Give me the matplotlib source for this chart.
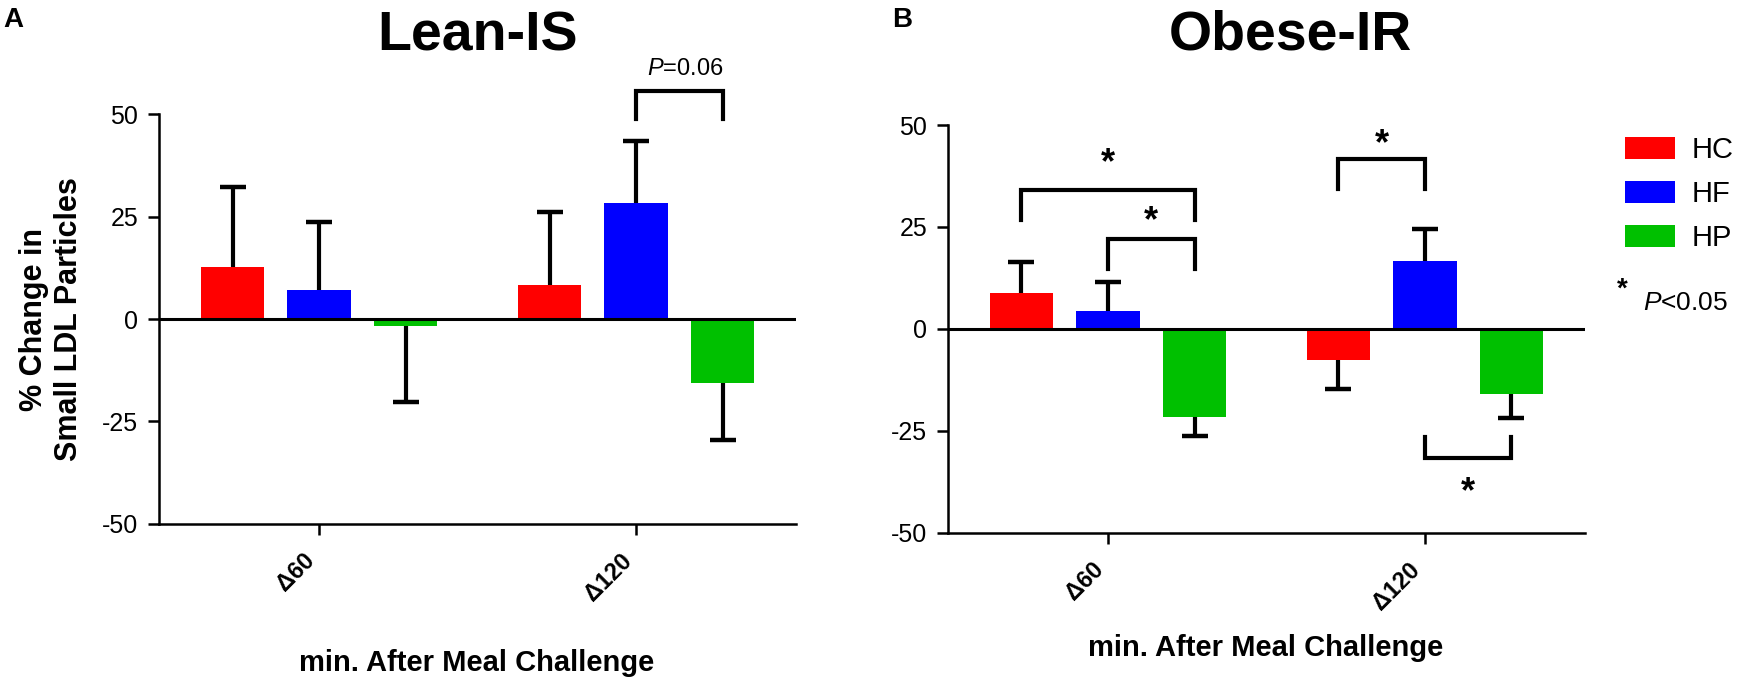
import matplotlib
matplotlib.use('Agg')
import matplotlib.pyplot as plt

plt.rcParams['font.family'] = ['Liberation Sans', 'DejaVu Sans']
plt.rcParams['mathtext.fontset'] = 'custom'
plt.rcParams['mathtext.it'] = 'Liberation Sans:italic'
plt.rcParams['mathtext.rm'] = 'Liberation Sans'

# data (mean and end of the SEM bar, % change)
groups = ['Δ60', 'Δ120']
series_names = ['HC', 'HF', 'HP']
colors = ['#ff0000', '#0000ff', '#00c000']

lean_means = [[12.8, 8.3], [7.1, 28.2], [-1.7, -15.7]]
lean_tips = [[32.1, 26.0], [23.6, 43.4], [-20.3, -29.4]]

obese_means = [[8.8, -7.6], [4.3, 16.6], [-21.5, -15.9]]
obese_tips = [[16.4, -14.7], [11.5, 24.6], [-26.3, -21.7]]

yticks = [-50, -25, 0, 25, 50]
ytick_labels = ['-50', '-25', '0', '25', '50']

# comparisons: (series a, group a, series b, group b, bar level, leg end, label, label level)
lean_brackets = [('HF', 1, 'HP', 1, 55.6, 48.8, r'$\it{P}$=0.06', 61)]
obese_brackets = [
    ('HC', 0, 'HP', 0, 34.1, 26.7, '*', 43.0),
    ('HF', 0, 'HP', 0, 22.0, 14.7, '*', 28.7),
    ('HC', 1, 'HF', 1, 41.7, 34.4, '*', 47.5),
    ('HF', 1, 'HP', 1, -31.6, -26.5, '*', -37.8),
]

offsets = [-0.273, 0.0, 0.273]
bar_w = 0.2


def bar_x(name, g):
    return g + offsets[series_names.index(name)]


def draw_panel(ax, means, tips, brackets, title, tx, ty):
    for i, name in enumerate(series_names):
        xs = [g + offsets[i] for g in range(len(groups))]
        ax.bar(xs, means[i], width=bar_w, color=colors[i], zorder=2, label=name)
        ax.vlines(xs, means[i], tips[i], color='k', lw=3, zorder=1)
        ax.plot(xs, tips[i], ls='none', marker='_', ms=19, mew=3.2, color='k', zorder=1)
    ax.axhline(0, color='k', lw=2.2, zorder=3)

    for a, ga, b, gb, level, leg, label, ly in brackets:
        x1, x2 = bar_x(a, ga), bar_x(b, gb)
        ax.plot([x1, x1, x2, x2], [leg, level, level, leg], color='k', lw=3,
                solid_joinstyle='miter', clip_on=False)
        xm = (x1 + x2) / 2
        if label == '*':
            ax.annotate('*', (xm, ly), xytext=(0, -14), textcoords='offset points',
                        ha='center', va='baseline', fontsize=26, fontweight='bold',
                        annotation_clip=False)
        else:
            ax.text(xm + 0.02, ly, label, ha='center', va='center', fontsize=17)

    ax.set_xlim(-0.505, 1.505)
    ax.set_ylim(-50, 50)
    ax.set_xticks(range(len(groups)))
    ax.set_xticklabels(groups, rotation=45, ha='right', fontsize=17, fontweight='bold')
    ax.set_yticks(yticks)
    ax.set_yticklabels(ytick_labels, fontsize=18)
    ax.tick_params(axis='both', direction='out', length=8, width=1.8, color='k')
    ax.tick_params(axis='y', pad=7)
    ax.tick_params(axis='x', pad=10)
    for side in ['top', 'right']:
        ax.spines[side].set_visible(False)
    for side in ['left', 'bottom']:
        ax.spines[side].set_linewidth(1.8)
    ax.text(tx, ty, title, transform=ax.transAxes, ha='center', va='baseline',
            fontsize=40, fontweight='bold')


fig = plt.figure(figsize=(17.5, 6.91), dpi=100)
ax_l = fig.add_axes([0.0909, 0.2417, 0.364, 0.5933])
ax_r = fig.add_axes([0.5417, 0.2287, 0.364, 0.5904])

draw_panel(ax_l, lean_means, lean_tips, lean_brackets, 'Lean-IS', 0.5, 1.156)
draw_panel(ax_r, obese_means, obese_tips, obese_brackets, 'Obese-IR', 0.538, 1.184)

ax_l.set_ylabel('% Change in\nSmall LDL Particles', fontsize=22, fontweight='bold')
ax_l.yaxis.set_label_coords(-0.118, 0.5)

fig.text(0.2726, 0.0405, 'min. After Meal Challenge', ha='center', va='center',
         fontsize=21, fontweight='bold')
fig.text(0.7234, 0.062, 'min. After Meal Challenge', ha='center', va='center',
         fontsize=21, fontweight='bold')

fig.text(0.002, 0.961, 'A', fontsize=20, fontweight='bold', va='baseline')
fig.text(0.5097, 0.961, 'B', fontsize=20, fontweight='bold', va='baseline')

ax_r.legend(loc='upper left', bbox_to_anchor=(1625 / 1750, 1 - 136 / 691),
            bbox_transform=fig.transFigure, frameon=False, fontsize=21,
            borderpad=0, borderaxespad=0, handlelength=1.7, handleheight=0.82,
            labelspacing=0.55, handletextpad=0.6)
fig.text(1622 / 1750, 1 - 290 / 691, '*', fontsize=20, fontweight='bold',
         ha='center', va='center')
fig.text(1643 / 1750, 1 - 303 / 691, r'$\it{P}$<0.05', fontsize=19, ha='left', va='center')

fig.savefig('out.png', dpi=100)
